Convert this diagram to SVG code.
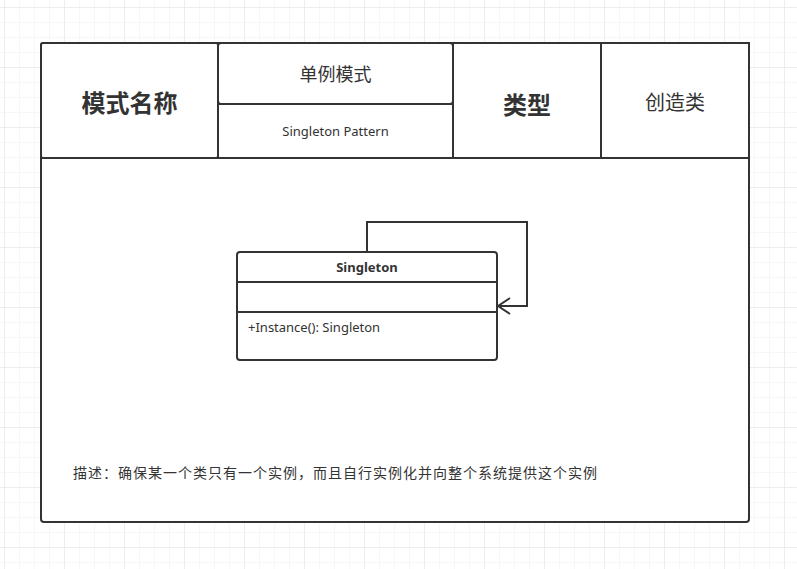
<svg xmlns="http://www.w3.org/2000/svg" width="797" height="569" viewBox="0 0 797 569">
<defs>
<pattern id="minor" x="4" y="7" width="15" height="15" patternUnits="userSpaceOnUse">
<path d="M0 0H15M0 0V15" fill="none" stroke="#efefef" stroke-width="1"/>
</pattern>
<pattern id="major" x="4" y="7" width="60" height="60" patternUnits="userSpaceOnUse">
<path d="M0 0H60M0 0V60" fill="none" stroke="#e4e4e4" stroke-width="1"/>
</pattern>
<marker id="open" viewBox="0 0 14 18" refX="13" refY="9" markerWidth="14" markerHeight="18" markerUnits="userSpaceOnUse" orient="auto">
<path d="M1 1L13 9L1 17" fill="none" stroke="#333" stroke-width="2"/>
</marker>
</defs>
<style>
.ln{fill:none;stroke:#333;stroke-width:2}
.box{fill:#fff;stroke:#333;stroke-width:2}
.t{font-family:"Noto Sans","Noto Sans CJK SC",sans-serif;fill:#333;text-anchor:middle;dominant-baseline:central}
.b{font-weight:bold}
</style>
<rect width="797" height="569" fill="#fff"/>
<rect width="797" height="569" fill="url(#minor)"/>
<rect width="797" height="569" fill="url(#major)"/>

<g id="frame">
<rect class="box" x="41" y="43" width="708" height="479" rx="3"/>
<line class="ln" x1="41" y1="158" x2="749" y2="158"/>
</g>
<g id="name-label">
<rect class="box" x="41" y="43" width="177" height="115" rx="2"/>
<text class="t b" x="129.5" y="102" font-size="24">模式名称</text>
</g>
<g id="name-cn">
<rect class="box" x="218" y="43" width="235" height="61" rx="3"/>
<text class="t" x="335.5" y="74" font-size="18">单例模式</text>
</g>
<g id="name-en">
<rect class="box" x="218" y="104" width="235" height="54" rx="0"/>
<text class="t" x="335.5" y="131" font-size="13">Singleton Pattern</text>
</g>
<g id="type-label">
<rect class="box" x="453" y="43" width="148" height="115" rx="0"/>
<text class="t b" x="527" y="104" font-size="24">类型</text>
</g>
<g id="type-value">
<rect class="box" x="601" y="43" width="148" height="115" rx="0"/>
<text class="t" x="675" y="102" font-size="20">创造类</text>
</g>

<g id="singleton-class">
<rect class="box" x="237" y="252" width="260" height="108" rx="3"/>
<line class="ln" x1="237" y1="282" x2="497" y2="282"/>
<line class="ln" x1="237" y1="312" x2="497" y2="312"/>
<text class="t b" x="367" y="267" font-size="13">Singleton</text>
<text class="t" x="248" y="327" font-size="13" style="text-anchor:start">+Instance(): Singleton</text>
</g>

<g id="connectors">
<path class="ln" d="M367 251V222H527V306H498" marker-end="url(#open)"/>
</g>

<g id="description">
<text class="t" x="73" y="472" font-size="14" letter-spacing="1" style="text-anchor:start">描述：确保某一个类只有一个实例，而且自行实例化并向整个系统提供这个实例</text>
</g>
</svg>
